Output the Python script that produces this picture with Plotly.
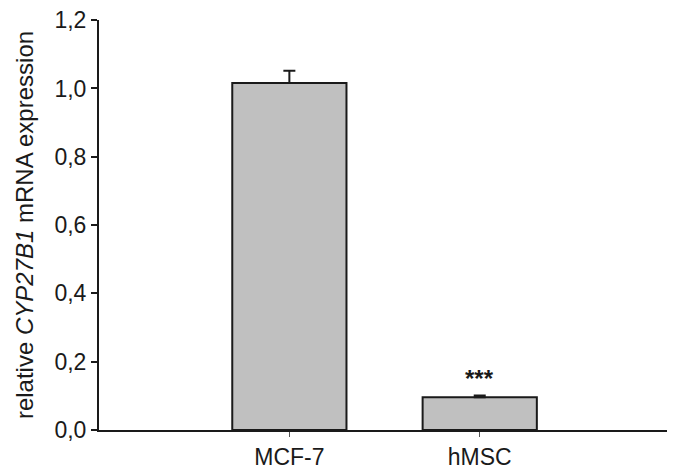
import plotly.graph_objects as go

# data
categories = ["MCF-7", "hMSC"]
expression = [1.016, 0.096]
error_up = [0.036, 0.005]
significance = ["", "***"]
y_ticks = [0, 0.2, 0.4, 0.6, 0.8, 1.0, 1.2]

fig = go.Figure()
fig.add_trace(go.Bar(
    x=categories,
    y=expression,
    width=0.6,
    marker=dict(color="#c0c0c0", line=dict(color="#1a1a1a", width=2)),
    error_y=dict(
        type="data", symmetric=False,
        array=error_up, arrayminus=[0] * len(error_up),
        color="#1a1a1a", thickness=2, width=6,
    ),
))

# significance marks above the error bars
for cat, val, err, sig in zip(categories, expression, error_up, significance):
    if sig:
        fig.add_annotation(
            x=cat, y=val + err, text="<b>" + sig + "</b>", showarrow=False,
            yanchor="bottom", yshift=2,
            font=dict(size=24, color="#1a1a1a"),
        )

# page body adds an 8px offset, margins compensate for it
fig.update_layout(
    width=675, height=474,
    margin=dict(l=91, r=11, t=12, b=52),
    paper_bgcolor="white", plot_bgcolor="white",
    separators=",.",
    showlegend=False,
    font=dict(family="Liberation Sans, Arial, sans-serif", size=23, color="#1a1a1a"),
)
fig.update_xaxes(
    range=[-1.0, 2.01], automargin=False,
    showline=True, linecolor="#1a1a1a", linewidth=2,
    ticks="outside", ticklen=5, tickwidth=1, tickcolor="#555",
    showgrid=False, zeroline=False,
    tickfont=dict(size=23),
)
fig.update_yaxes(
    range=[0, 1.2005], automargin=False, ticklabeloverflow="allow",
    tickvals=y_ticks, tickformat=".1f",
    showline=True, linecolor="#1a1a1a", linewidth=2,
    ticks="outside", ticklen=6, tickwidth=2, tickcolor="#1a1a1a",
    showgrid=False, zeroline=False,
    tickfont=dict(size=23),
    title=dict(text="relative <i>CYP27B1</i> mRNA expression", font=dict(size=24), standoff=14),
)

fig.write_html("out.html")
